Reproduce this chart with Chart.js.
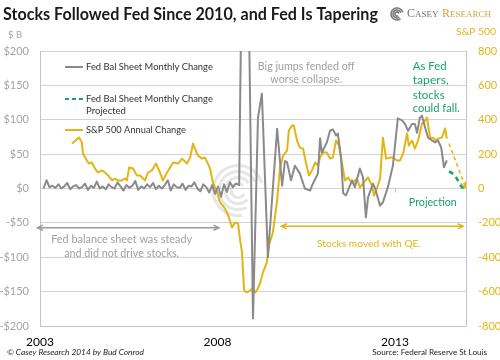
<!DOCTYPE html>
<html><head><meta charset="utf-8">
<script src="https://cdn.jsdelivr.net/npm/chart.js@4/dist/chart.umd.min.js"></script>
<style>html,body{margin:0;padding:0;background:#fff}canvas{display:block}</style>
</head><body>
<canvas id="c" width="500" height="360"></canvas>
<script>
// ---------- data ----------
const xTickYears = [2003, 2008, 2013];
const fedMonthlyStart = 2003.1; // first monthly observation (decimal year)
const fedEarlyValues = [0,12,2,4,1,6,0,3,8,-1,3,5,0,2,7,-2,4,1,10,0,3,-1,6,2,0,9,3,-3,5,1,4,11,-2,3,0,6,2,8,-1,4,0,5,12,-3,6,2,1,7,-2,4,3,9,0,-4,6,2,-6,5,-8,3,-12,6,-5,9,2,7];
const fedLateYears = [2008.61,2008.69,2008.86,2009.00,2009.14,2009.25,2009.42,2009.68,2009.82,2009.90,2009.96,2010.07,2010.18,2010.32,2010.46,2010.61,2010.66,2010.83,2010.89,2010.94,2011.08,2011.17,2011.25,2011.34,2011.39,2011.48,2011.54,2011.62,2011.79,2011.87,2012.01,2012.10,2012.18,2012.24,2012.38,2012.44,2012.58,2012.66,2012.80,2012.94,2013.08,2013.20,2013.28,2013.37,2013.48,2013.56,2013.62,2013.70,2013.76,2013.82,2013.93,2014.04,2014.13,2014.21,2014.30,2014.38,2014.46];
const fedLateValues = [5,350,350,-189,103,138,-100,87,4,40,38,12,33,22,0,-3,4,22,73,52,67,84,86,77,80,45,-7,-10,12,2,29,16,-42,-13,7,0,-25,-20,2,33,102,99,94,84,94,94,81,103,106,94,74,70,67,70,60,31,41];
const spYears = [2003.90,2004.10,2004.18,2004.21,2004.32,2004.38,2004.46,2004.55,2004.63,2004.75,2004.83,2004.92,2005.03,2005.11,2005.20,2005.31,2005.39,2005.45,2005.51,2005.62,2005.73,2005.82,2005.96,2006.04,2006.15,2006.27,2006.38,2006.46,2006.58,2006.75,2006.89,2007.00,2007.14,2007.23,2007.31,2007.42,2007.45,2007.56,2007.65,2007.73,2007.79,2007.87,2007.99,2008.07,2008.21,2008.30,2008.41,2008.49,2008.58,2008.63,2008.69,2008.72,2008.75,2008.83,2008.92,2009.00,2009.06,2009.11,2009.20,2009.28,2009.39,2009.45,2009.56,2009.68,2009.76,2009.85,2009.96,2010.01,2010.10,2010.15,2010.24,2010.32,2010.41,2010.52,2010.58,2010.66,2010.75,2010.83,2010.89,2010.97,2011.08,2011.17,2011.25,2011.34,2011.42,2011.51,2011.59,2011.68,2011.79,2011.93,2012.01,2012.10,2012.24,2012.35,2012.41,2012.49,2012.58,2012.66,2012.75,2012.86,2012.94,2013.06,2013.14,2013.23,2013.34,2013.39,2013.48,2013.56,2013.65,2013.76,2013.85,2013.90,2013.99,2014.07,2014.15,2014.21,2014.32,2014.41,2014.46];
const spValues = [262,297,267,203,163,145,151,116,93,105,93,76,47,58,47,47,58,47,122,116,76,76,47,93,105,145,93,47,93,151,145,174,145,180,262,203,192,174,180,145,116,35,-23,-81,-116,-157,-227,-198,-203,-291,-372,-488,-593,-605,-593,-576,-605,-593,-552,-488,-430,-331,-256,-70,122,192,221,337,366,366,279,238,232,122,76,105,151,134,180,209,209,174,180,279,250,145,47,64,29,58,6,30,64,17,-41,0,58,296,174,180,180,163,163,203,320,250,279,232,279,378,395,413,296,296,279,290,296,349,290];
const projFedYears = [2014.52, 2014.68, 2014.88, 2015.0];
const projFedValues = [25, 20, 2, 0];
const projSpYears = [2014.52, 2015.0];
const projSpValues = [262, 0];

// ---------- helpers ----------
const FAM = 'Lato, "Open Sans", sans-serif';
const GRAY = '#8a8a8a', GOLD = '#e3b514', GREEN = '#17a36a', LABELGRAY = '#a5a5a5';
function pts(xs, ys){ return xs.map((x,i)=>({x, y: ys[i]})); }
const fedPoints = fedEarlyValues.map((v,i)=>({x: fedMonthlyStart + i/12, y: v})).concat(pts(fedLateYears, fedLateValues));

function fitText(ctx, text, x, y, targetW, opts){
  const style = opts.style||'normal', weight = opts.weight||'normal', fam = opts.fam||FAM;
  ctx.font = `${style} ${weight} 20px ${fam}`;
  const w = ctx.measureText(text).width;
  const size = 20*targetW/w;
  ctx.font = `${style} ${weight} ${size.toFixed(2)}px ${fam}`;
  ctx.fillStyle = opts.color||'#000';
  ctx.textAlign = opts.align||'left';
  ctx.textBaseline = opts.baseline||'middle';
  ctx.fillText(text, x, y);
}
function arrowHead(ctx, x, y, dx, dy, len){
  const a = Math.atan2(dy, dx);
  ctx.beginPath();
  ctx.moveTo(x - len*Math.cos(a-0.45), y - len*Math.sin(a-0.45));
  ctx.lineTo(x, y);
  ctx.lineTo(x - len*Math.cos(a+0.45), y - len*Math.sin(a+0.45));
  ctx.stroke();
}

const decor = {
  id: 'decor',
  beforeDatasetsDraw(chart){
    const ctx = chart.ctx, xs = chart.scales.x, ys = chart.scales.y;
    // watermark rings
    const cx = xs.getPixelForValue(2008.58), cy = ys.getPixelForValue(-3);
    ctx.save();
    ctx.strokeStyle = 'rgba(200,200,200,0.45)';
    ctx.lineWidth = 3;
    [7,13,19,25].forEach((r,i)=>{ ctx.beginPath(); ctx.arc(cx, cy, r, Math.PI*(0.15+i*0.1), Math.PI*(1.75+i*0.05)); ctx.stroke(); });
    ctx.restore();
  },
  afterDatasetsDraw(chart){
    const ctx = chart.ctx, xs = chart.scales.x, ys = chart.scales.y, y2 = chart.scales.y2;
    const X = v=>xs.getPixelForValue(v), Y = v=>ys.getPixelForValue(v);
    ctx.save();
    // projection arrowhead (S&P)
    ctx.strokeStyle = GOLD; ctx.lineWidth = 1.5;
    const ax0 = X(projSpYears[0]), ay0 = y2.getPixelForValue(projSpValues[0]);
    const ax1 = X(projSpYears[1]) - 1, ay1 = y2.getPixelForValue(projSpValues[1]) - 1;
    arrowHead(ctx, ax1, ay1, ax1-ax0, ay1-ay0, 6);
    // gray double arrow
    ctx.strokeStyle = '#9a9a9a'; ctx.lineWidth = 1.5;
    const gy = Y(-57), gl = X(2002.93), gr = X(2008.04);
    ctx.beginPath(); ctx.moveTo(gl, gy); ctx.lineTo(gr, gy); ctx.stroke();
    arrowHead(ctx, gl, gy, -1, 0, 6); arrowHead(ctx, gr, gy, 1, 0, 6);
    // gold double arrow
    ctx.strokeStyle = GOLD;
    const oy = Y(-55), ol = X(2009.8), orr = X(2014.92);
    ctx.beginPath(); ctx.moveTo(ol, oy); ctx.lineTo(orr, oy); ctx.stroke();
    arrowHead(ctx, ol, oy, -1, 0, 6); arrowHead(ctx, orr, oy, 1, 0, 6);
    // annotations
    fitText(ctx, 'Fed balance sheet was steady', X(2005.3), Y(-74), 141, {color:'#a0a0a0', align:'center'});
    fitText(ctx, 'and did not drive stocks.', X(2005.3), Y(-95), 115, {color:'#a0a0a0', align:'center'});
    fitText(ctx, 'Stocks moved with QE.', X(2010.8), Y(-80), 104, {color:GOLD, align:'left'});
    fitText(ctx, 'Big jumps fended off', X(2010.5), Y(178), 97, {color:'#a0a0a0', align:'center'});
    fitText(ctx, 'worse collapse.', X(2010.5), Y(158), 72, {color:'#a0a0a0', align:'center'});
    fitText(ctx, 'As Fed', X(2013.5), Y(178), 34, {color:GREEN});
    fitText(ctx, 'tapers,', X(2013.5), Y(157), 36, {color:GREEN});
    fitText(ctx, 'stocks', X(2013.5), Y(135), 32, {color:GREEN});
    fitText(ctx, 'could fall.', X(2013.5), Y(116), 47, {color:GREEN});
    fitText(ctx, 'Projection', X(2013.39), Y(-20), 48, {color:GREEN});
    // legend
    ctx.lineWidth = 2;
    ctx.strokeStyle = GRAY; ctx.beginPath(); ctx.moveTo(65, 67); ctx.lineTo(83, 67); ctx.stroke();
    ctx.strokeStyle = GREEN; ctx.setLineDash([4,3]); ctx.beginPath(); ctx.moveTo(65, 99); ctx.lineTo(84, 99); ctx.stroke(); ctx.setLineDash([]);
    ctx.strokeStyle = GOLD; ctx.beginPath(); ctx.moveTo(65, 130); ctx.lineTo(83, 130); ctx.stroke();
    fitText(ctx, 'Fed Bal Sheet Monthly Change', 86, 67, 127, {color:'#333'});
    fitText(ctx, 'Fed Bal Sheet Monthly Change', 86, 99, 127, {color:'#333'});
    fitText(ctx, 'Projected', 86, 111, 40, {color:'#333'});
    fitText(ctx, 'S&P 500 Annual Change', 86, 130, 100, {color:'#333'});
    // small ticks on zero line
    ctx.strokeStyle = '#bfbfbf'; ctx.lineWidth = 1;
    xTickYears.forEach(v=>{ const px = Math.round(X(v))+0.5; ctx.beginPath(); ctx.moveTo(px, Y(0)); ctx.lineTo(px, Y(0)+4); ctx.stroke(); });
    ctx.restore();
  },
  afterDraw(chart){
    const ctx = chart.ctx;
    ctx.save();
    fitText(ctx, 'Stocks Followed Fed Since 2010, and Fed Is Tapering', 3, 20, 375, {weight:'bold', color:'#1a1a1a', baseline:'alphabetic'});
    fitText(ctx, '$ B', 8, 35, 14, {color:LABELGRAY});
    fitText(ctx, 'S&P 500', 456, 32, 40, {color:GOLD});
    // logo
    ctx.strokeStyle = '#7a7a7a';
    [2,4,6].forEach(r=>{ ctx.lineWidth = 1.6; ctx.beginPath(); ctx.arc(397, 14, r, Math.PI*0.3, Math.PI*1.9); ctx.stroke(); });
    const serif = '"Liberation Serif", "DejaVu Serif", serif';
    ctx.textBaseline = 'alphabetic'; ctx.textAlign = 'left';
    ctx.fillStyle = '#6e6e6e';
    ctx.font = `12px ${serif}`; ctx.fillText('C', 407, 17);
    let w = ctx.measureText('C').width;
    ctx.font = `9px ${serif}`; ctx.fillText('ASEY', 407+w, 17);
    ctx.fillStyle = '#c9a84a';
    ctx.font = `12px ${serif}`; ctx.fillText('R', 442, 17);
    w = ctx.measureText('R').width;
    ctx.font = `9px ${serif}`; ctx.fillText('ESEARCH', 442+w, 17);
    // footer
    fitText(ctx, '\u00A9 Casey Research 2014 by Bud Conrod', 7, 352, 137, {style:'italic', color:'#222'});
    fitText(ctx, 'Source: Federal Reserve St Louis', 487, 352, 115, {color:'#222', align:'right'});
    ctx.restore();
  }
};

new Chart(document.getElementById('c'), {
  type: 'line',
  data: {
    datasets: [
      { label:'Fed Bal Sheet Monthly Change', data: fedPoints, borderColor: GRAY, borderWidth: 2, pointRadius: 0, yAxisID: 'y' },
      { label:'S&P 500 Annual Change', data: pts(spYears, spValues), borderColor: GOLD, borderWidth: 2, pointRadius: 0, yAxisID: 'y2' },
      { label:'Fed Bal Sheet Monthly Change Projected', data: pts(projFedYears, projFedValues), borderColor: GREEN, borderWidth: 2.5, borderDash:[5,4], pointRadius: 0, yAxisID: 'y' },
      { label:'S&P projection', data: pts(projSpYears, projSpValues), borderColor: GOLD, borderWidth: 1.5, borderDash:[4,3], pointRadius: 0, yAxisID: 'y2' }
    ]
  },
  options: {
    responsive: false, animation: false, devicePixelRatio: 1,
    layout: { padding: { top: 51, left: 0, right: 0, bottom: 0 } },
    plugins: { legend: { display: false }, title: { display: false }, tooltip: { enabled: false } },
    elements: { line: { tension: 0, borderJoinStyle: 'round' } },
    scales: {
      x: {
        type: 'linear', min: 2003, max: 2015,
        afterBuildTicks: s => { s.ticks = xTickYears.map(v=>({value: v})); },
        afterFit: s => { s.height = 34; },
        grid: { display: false, drawTicks: false },
        border: { display: true, color: '#c4c4c4' },
        ticks: { color: '#000', padding: 9, font: { family: FAM, size: 12 }, callback: v => String(v), maxRotation: 0 }
      },
      y: {
        position: 'left', min: -200, max: 200,
        afterFit: s => { s.width = 40; },
        grid: { color: '#d2d2d2', drawTicks: false },
        border: { display: true, color: '#c4c4c4' },
        ticks: { stepSize: 50, color: LABELGRAY, padding: 11, font: { family: FAM, size: 11 }, callback: v => (v < 0 ? '-$' : '$') + Math.abs(v) }
      },
      y2: {
        position: 'right', min: -800, max: 800,
        afterFit: s => { s.width = 34; },
        grid: { display: false, drawTicks: false },
        border: { display: true, color: '#c4c4c4' },
        ticks: { stepSize: 200, color: GOLD, padding: 12, font: { family: FAM, size: 11 } }
      }
    }
  },
  plugins: [decor]
});
</script>
</body></html>
